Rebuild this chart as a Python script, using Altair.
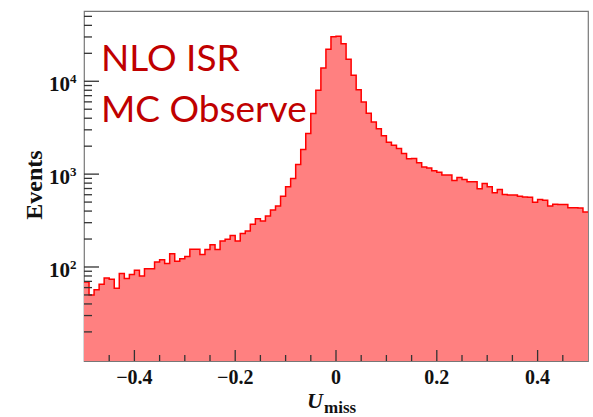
import altair as alt
import pandas as pd
import numpy as np

# ---------------- data ----------------
counts = [69, 50, 57, 65, 76, 74, 59, 85, 75, 83,
          92, 80, 96, 96, 113, 120, 109, 139, 115, 123,
          130, 155, 155, 136, 154, 174, 154, 190, 199, 219,
          190, 229, 244, 288, 330, 312, 353, 411, 453, 577,
          731, 896, 1270, 1838, 2734, 4488, 8000, 13910, 22120, 30150,
          30530, 25340, 17260, 11600, 8100, 5985, 4522, 3645, 3079, 2588,
          2203, 2045, 1885, 1665, 1463, 1470, 1325, 1191, 1165, 1087,
          1047, 981, 981, 854, 918, 874, 827, 827, 695, 791,
          731, 630, 682, 604, 596, 595, 577, 567, 563, 497,
          532, 523, 454, 473, 471, 470, 434, 434, 431, 391]
bin_edges = [round(v, 2) for v in np.linspace(-0.5, 0.5, 101)]

y_major = [100, 1000, 10000]
y_exp = ["2", "3", "4"]
y_minor = [20, 30, 40, 50, 60, 70, 80, 90,
           200, 300, 400, 500, 600, 700, 800, 900,
           2000, 3000, 4000, 5000, 6000, 7000, 8000, 9000,
           20000, 30000, 40000, 50000]
x_major = [-0.4, -0.2, 0.0, 0.2, 0.4]
x_labels = ["\u22120.4", "\u22120.2", "0", "0.2", "0.4"]
x_minor = [-0.45, -0.35, -0.3, -0.25, -0.15, -0.1, -0.05,
           0.05, 0.1, 0.15, 0.25, 0.3, 0.35, 0.45]

YMIN, YMAX = 9.72, 57100
W, H = 504, 350

hist = pd.DataFrame({"x": bin_edges, "y": counts + [counts[-1]]})
ymaj_df = pd.DataFrame({"y": y_major, "e": y_exp, "b": ["10"] * 3})
ymin_df = pd.DataFrame({"y": y_minor})
xmaj_df = pd.DataFrame({"x": x_major, "lab": x_labels})
xmin_df = pd.DataFrame({"x": x_minor})

xs = alt.Scale(domain=[-0.5, 0.5], nice=False, zero=False)
ys = alt.Scale(type="log", domain=[YMIN, YMAX], nice=False)
AX = alt.Axis(labels=False, ticks=False, title=None, grid=False,
              domainColor="#333333", domainWidth=1.5)

SERIF = "Liberation Serif"
TICKC = "#333333"

note = alt.Chart(pd.DataFrame({"t": ["NLO ISR", "MC Observe"],
                               "yy": [60, 110.5]})).mark_text(
    font="Lato", fontSize=37, color="#C00000", align="left",
    baseline="alphabetic").encode(
    x=alt.value(17), y=alt.Y("yy:Q", scale=None), text="t:N")

area = alt.Chart(hist).mark_area(interpolate="step-after", color="#FF8080",
                                 opacity=1, clip=True).encode(
    x=alt.X("x:Q", scale=xs, axis=AX),
    y=alt.Y("y:Q", scale=ys, axis=AX),
    y2=alt.datum(YMIN))

line = alt.Chart(hist).mark_line(interpolate="step-after", color="#FF0000",
                                 strokeWidth=1.5, clip=True).encode(
    x=alt.X("x:Q", scale=xs, axis=None),
    y=alt.Y("y:Q", scale=ys, axis=None))

ytick_maj = alt.Chart(ymaj_df).mark_rule(color=TICKC, strokeWidth=1.3).encode(
    y=alt.Y("y:Q", scale=ys, axis=None), x=alt.value(0), x2=alt.value(15))
ytick_min = alt.Chart(ymin_df).mark_rule(color=TICKC, strokeWidth=1.3).encode(
    y=alt.Y("y:Q", scale=ys, axis=None), x=alt.value(0), x2=alt.value(8))
xtick_maj = alt.Chart(xmaj_df).mark_rule(color=TICKC, strokeWidth=1.3).encode(
    x=alt.X("x:Q", scale=xs, axis=None), y=alt.value(H), y2=alt.value(H - 11))
xtick_min = alt.Chart(xmin_df).mark_rule(color=TICKC, strokeWidth=1.3).encode(
    x=alt.X("x:Q", scale=xs, axis=None), y=alt.value(H), y2=alt.value(H - 6))

ylab_base = alt.Chart(ymaj_df).mark_text(
    font=SERIF, fontWeight="bold", fontSize=21, align="right",
    baseline="alphabetic", dy=10, color="#111111").encode(
    y=alt.Y("y:Q", scale=ys, axis=None), x=alt.value(-14), text="b:N")
ylab_exp = alt.Chart(ymaj_df).mark_text(
    font=SERIF, fontWeight="bold", fontSize=13, align="left",
    baseline="alphabetic", dy=2, color="#111111").encode(
    y=alt.Y("y:Q", scale=ys, axis=None), x=alt.value(-14), text="e:N")

xlab = alt.Chart(xmaj_df).mark_text(
    font=SERIF, fontWeight="bold", fontSize=20, align="center",
    baseline="alphabetic", color="#111111").encode(
    x=alt.X("x:Q", scale=xs, axis=None), y=alt.value(H + 23), text="lab:N")

ytitle = alt.Chart(pd.DataFrame({"t": ["Events"]})).mark_text(
    font=SERIF, fontWeight="bold", fontSize=24, angle=270, align="center",
    baseline="middle", color="#111111").encode(
    x=alt.value(-49), y=alt.value(174), text="t:N")
xtitle_u = alt.Chart(pd.DataFrame({"t": ["U"]})).mark_text(
    font=SERIF, fontWeight="bold", fontStyle="italic", fontSize=22,
    align="left", baseline="alphabetic", color="#111111").encode(
    x=alt.value(223), y=alt.value(397), text="t:N")
xtitle_s = alt.Chart(pd.DataFrame({"t": ["miss"]})).mark_text(
    font=SERIF, fontWeight="bold", fontSize=17,
    align="left", baseline="alphabetic", color="#111111").encode(
    x=alt.value(240), y=alt.value(402), text="t:N")

chart = alt.layer(note, area, line, ytick_maj, ytick_min, xtick_maj, xtick_min,
                  ylab_base, ylab_exp, xlab, ytitle, xtitle_u, xtitle_s).properties(
    width=W, height=H,
    autosize=alt.AutoSizeParams(type="none"),
    padding={"left": 84, "top": 11, "right": 5, "bottom": 56},
    background="white",
).configure_view(stroke="#777777", strokeWidth=1.2)

chart.save("out.html", embed_options={"renderer": "svg", "actions": False})
